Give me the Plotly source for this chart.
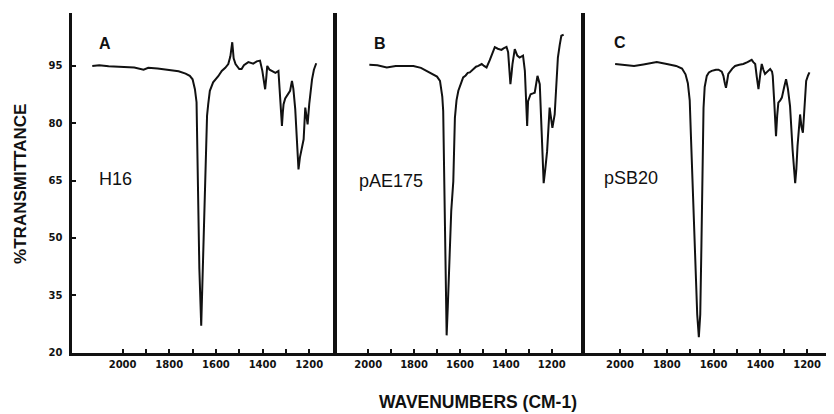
import plotly.graph_objects as go

# ---------------- data ----------------
wn_a = [2130, 2100, 2060, 2000, 1950, 1910, 1890, 1850, 1800, 1760, 1730, 1712, 1700, 1690, 1683,
        1677, 1671, 1663, 1656, 1648, 1643, 1638, 1633, 1626, 1612, 1600, 1590, 1575, 1560, 1547,
        1538, 1530, 1524, 1516, 1511, 1500, 1490, 1480, 1461, 1440, 1425, 1411, 1401, 1394, 1389,
        1384, 1380, 1370, 1360, 1345, 1332, 1327, 1320, 1317, 1313, 1310, 1303, 1296, 1282, 1274,
        1268, 1260, 1252, 1246, 1240, 1230, 1224, 1217, 1212, 1207, 1200, 1188, 1180, 1170]
t_a = [95.0, 95.2, 94.9, 94.8, 94.6, 94.0, 94.5, 94.3, 94.0, 93.6, 93.0, 92.4, 91.5, 88.9, 85.5,
       60.0, 42.0, 27.0, 42.0, 60.0, 75.0, 82.0, 85.0, 88.5, 90.7, 91.5, 92.3, 93.7, 94.5, 95.5,
       97.5, 101.2, 97.0, 95.5, 95.0, 94.2, 94.2, 95.2, 96.0, 95.6, 96.2, 96.4, 93.7, 90.0, 88.9,
       92.0, 95.0, 94.0, 93.7, 93.2, 93.7, 88.9, 82.0, 79.3, 83.0, 85.0, 86.5, 87.2, 88.5, 91.1,
       89.0, 83.7, 74.0, 67.9, 71.0, 74.5, 75.8, 84.1, 81.0, 79.7, 85.0, 91.5, 94.0, 95.7]

wn_b = [1995, 1960, 1919, 1880, 1840, 1803, 1770, 1730, 1700, 1687, 1677, 1673, 1670, 1666, 1661,
        1658, 1653, 1646, 1638, 1629, 1625, 1622, 1615, 1607, 1595, 1586, 1575, 1566, 1557, 1548,
        1540, 1530, 1520, 1505, 1495, 1484, 1470, 1455, 1448, 1435, 1419, 1410, 1397, 1390, 1385,
        1380, 1375, 1371, 1361, 1350, 1340, 1325, 1317, 1310, 1307, 1303, 1292, 1282, 1274, 1262,
        1252, 1244, 1235, 1228, 1220, 1209, 1203, 1197, 1187, 1180, 1173, 1165, 1158, 1148]
t_b = [95.3, 95.2, 94.6, 95.0, 95.0, 95.0, 94.5, 93.3, 92.2, 91.1, 87.0, 83.2, 70.0, 50.0, 32.0,
       24.5, 32.0, 45.0, 57.0, 64.8, 75.0, 81.4, 86.0, 88.5, 90.5, 92.0, 92.5, 93.2, 93.3, 93.8,
       94.2, 94.8, 95.0, 95.5, 95.0, 94.6, 96.5, 98.6, 99.9, 99.5, 99.2, 99.6, 100.0, 98.6, 94.0,
       90.2, 93.0, 95.5, 99.4, 97.7, 97.2, 97.7, 93.7, 84.0, 79.3, 85.8, 87.6, 87.8, 88.0, 92.4,
       90.2, 78.0, 64.3, 68.0, 72.7, 84.1, 81.0, 78.8, 82.3, 90.0, 97.2, 100.5, 102.9, 103.2]

wn_c = [2021, 1980, 1940, 1900, 1843, 1800, 1760, 1735, 1720, 1710, 1702, 1697, 1690, 1680, 1670,
        1663, 1657, 1652, 1647, 1643, 1638, 1629, 1620, 1608, 1590, 1579, 1565, 1558, 1552, 1547,
        1542, 1537, 1520, 1508, 1490, 1473, 1455, 1437, 1430, 1422, 1415, 1408, 1400, 1394, 1387,
        1380, 1370, 1358, 1350, 1347, 1340, 1333, 1328, 1323, 1315, 1308, 1298, 1290, 1282, 1273,
        1262, 1251, 1246, 1241, 1230, 1224, 1218, 1212, 1204, 1196, 1190]
t_c = [95.5, 95.3, 95.0, 95.4, 96.0, 95.5, 95.0, 94.3, 92.8, 90.5, 86.0, 77.0, 65.0, 45.0, 30.0,
       24.0, 30.0, 48.0, 70.0, 84.0, 89.5, 92.4, 93.3, 93.7, 94.0, 94.0, 93.5, 92.4, 90.5, 89.3,
       91.0, 92.9, 94.3, 95.0, 95.3, 95.5, 96.0, 96.6, 96.0, 95.5, 92.0, 88.9, 93.0, 95.5, 94.0,
       92.9, 93.5, 94.2, 93.5, 92.4, 85.0, 76.6, 82.0, 85.4, 86.0, 86.7, 89.5, 91.5, 89.0, 84.5,
       73.0, 64.3, 68.0, 74.0, 82.3, 79.0, 77.5, 84.0, 91.1, 92.5, 93.3]

panel_letters = ["A", "B", "C"]
sample_names = ["H16", "pAE175", "pSB20"]
x_tick_vals = [2000, 1900, 1800, 1700, 1600, 1500, 1400, 1300, 1200]
x_tick_text = ["2000", "", "1800", "", "1600", "", "1400", "", "1200"]
y_tick_vals = [20, 35, 50, 65, 80, 95]
y_tick_text = ["20", "35", "50", "65", "80", "95"]
x_title = "WAVENUMBERS (CM-1)"
y_title = "%TRANSMITTANCE"

# ---------------- layout geometry ----------------
# page body keeps an 8px margin; the photographed page area is 834x422 mapped onto 834x414
OFF = 8
SY = 422 / 414
W, H = 834 - OFF, 414
def fx(px):
    return (px - OFF) / W
def fy(py):
    return 1 - (py * SY - OFF) / H

x_ranges = [[2219, 1081], [2136, 1057], [2152, 1085]]
x_domains = [[fx(71.5), fx(337)], [fx(337), fx(584.5)], [fx(584.5), fx(834)]]
y_domain = [fy(350), fy(13)]
y_range = [20, 108.8]

tick_font = dict(family="DejaVu Sans", size=10, color="#111", weight="bold")

fig = go.Figure()
series = [(wn_a, t_a), (wn_b, t_b), (wn_c, t_c)]
for i, (wn, tr) in enumerate(series):
    sfx = "" if i == 0 else str(i + 1)
    fig.add_trace(go.Scatter(x=wn, y=tr, mode="lines",
                             line=dict(color="#111", width=2),
                             xaxis="x" + sfx, yaxis="y" + sfx,
                             showlegend=False, hoverinfo="skip"))

layout = dict(width=W, height=H, margin=dict(l=0, r=0, t=0, b=0),
              paper_bgcolor="white", plot_bgcolor="white", showlegend=False)
for i in range(3):
    sfx = "" if i == 0 else str(i + 1)
    layout["xaxis" + sfx] = dict(domain=x_domains[i], range=x_ranges[i], anchor="y" + sfx,
                                 showline=True, linecolor="#111", linewidth=3,
                                 showgrid=False, zeroline=False,
                                 tickmode="array", tickvals=x_tick_vals, ticktext=x_tick_text,
                                 ticks="inside", ticklen=4, tickwidth=1.5, tickcolor="#111",
                                 tickfont=tick_font)
    ya = dict(domain=y_domain, range=y_range, anchor="x" + sfx,
              showline=True, linecolor="#111", linewidth=3 if i == 0 else 4,
              showgrid=False, zeroline=False)
    if i == 0:
        ya.update(tickmode="array", tickvals=y_tick_vals, ticktext=y_tick_text,
                  ticks="inside", ticklen=4, tickwidth=1.5, tickcolor="#111",
                  tickfont=tick_font, ticklabelstandoff=4)
    else:
        ya.update(showticklabels=False, ticks="")
    layout["yaxis" + sfx] = ya
fig.update_layout(**layout)

letter_pos = [(97, 43), (372, 43), (612, 42)]
name_pos = [(97, 178), (357, 180), (602, 177)]
for i in range(3):
    fig.add_annotation(text=panel_letters[i], xref="paper", yref="paper",
                       x=fx(letter_pos[i][0]), y=fy(letter_pos[i][1]),
                       xanchor="left", yanchor="middle", showarrow=False,
                       font=dict(family="Liberation Sans", size=16, color="#111", weight="bold"))
    fig.add_annotation(text=sample_names[i], xref="paper", yref="paper",
                       x=fx(name_pos[i][0]), y=fy(name_pos[i][1]),
                       xanchor="left", yanchor="middle", showarrow=False,
                       font=dict(family="Liberation Sans", size=18, color="#111"))

fig.add_annotation(text=x_title, xref="paper", yref="paper", x=fx(478), y=fy(399.5),
                   xanchor="center", yanchor="middle", showarrow=False,
                   font=dict(family="Liberation Sans", size=17.5, color="#111", weight="bold"))
fig.add_annotation(text=y_title, xref="paper", yref="paper", x=fx(20.5), y=fy(183),
                   xanchor="center", yanchor="middle", showarrow=False, textangle=-90,
                   font=dict(family="Liberation Sans", size=17, color="#111", weight="bold"))

fig.write_html("out.html", config={"displayModeBar": False})
